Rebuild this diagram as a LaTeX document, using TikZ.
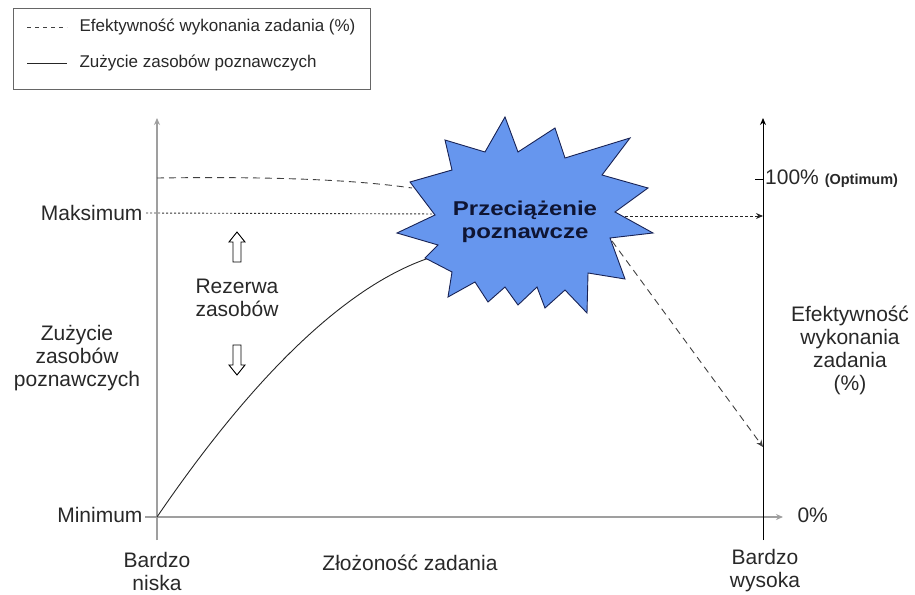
\documentclass[tikz,border=0pt]{standalone}
\usepackage{fontspec}
\setmainfont{Liberation Sans}
\newfontfamily\burstfont{Liberation Sans}[FakeStretch=1.2]
\usetikzlibrary{positioning,arrows.meta}

\definecolor{burstblue}{RGB}{102,150,238}
\definecolor{burstline}{RGB}{25,35,85}
\definecolor{labelgray}{RGB}{40,40,40}

\tikzstyle{axis}=[line width=1.2pt,color=gray!75]
\tikzstyle{axis right}=[line width=1pt,color=black]
\tikzstyle{effort}=[line width=0.9pt,color=black!85]
\tikzstyle{performance}=[line width=0.9pt,color=black!75,dash pattern=on 7pt off 5pt]
\tikzstyle{reserve}=[line width=0.9pt,color=black!80,dash pattern=on 2pt off 2pt]
\tikzstyle{label}=[font=\fontsize{21}{23}\selectfont,align=center,text=labelgray]
\tikzstyle{legend text}=[font=\fontsize{17}{19}\selectfont,anchor=west,text=labelgray]
\tikzstyle{overload}=[fill=burstblue,draw=burstline,line width=0.9pt]
\newcommand{\hollowarrow}[2]{
    \draw[line width=0.9pt,fill=white,shift={(#1)},rotate=#2]
        (-4,15) -- (-4,-5) -- (-8,-5) -- (0,-15) --
        (8,-5) -- (4,-5) -- (4,15) -- cycle;
}

\begin{document}
\begin{tikzpicture}[x=1pt,y=-1pt,>={Stealth[length=7pt,width=6pt]}]
    \useasboundingbox (0,0) rectangle (915,594);
    % legend
    \draw[line width=1pt,color=gray!80!black] (13,9) rectangle (370,89);
    \draw[performance,dash pattern=on 4pt off 4pt] (27,27) -- (67,27);
    \node[legend text] (legperf) at (76,27) {Efektywność wykonania zadania (\%)};
    \draw[effort] (27,63) -- (67,63);
    \node[legend text] (legeffort) at (76,63) {Zużycie zasobów poznawczych};
    %
    \coordinate (origin) at (157,517);
    \coordinate (ytop) at (157,118);
    \coordinate (ybot) at (157,540);
    \coordinate (xleft) at (145,517);
    \coordinate (xend) at (783,517);
    \coordinate (rtop) at (763,118);
    \coordinate (rbot) at (763,540);
    \coordinate (rtick) at (755,179);
    \draw[axis,->] (ybot) -- (ytop);
    \draw[axis,->] (xleft) -- (xend);
    \draw[axis right,->] (rbot) -- (rtop);
    \draw[axis right] (rtick) -- (rtick-|rtop);
    %
    \node[label,anchor=east] (maks) at (146,213) {Maksimum};
    \node[label,anchor=east] (mini) at (146,515) {Minimum};
    \node[label,anchor=west] (zero) at (794,515) {0\%};
    \node[label,anchor=west,inner xsep=2pt] (hundred) at (763,179)
        {100\% {\bfseries\fontsize{14.5}{16}\selectfont (Optimum)}};
    \node[label] (yname) at (77,358) {Zużycie\\zasobów\\poznawczych};
    \node[label] (rname) at (850,350) {Efektywność\\wykonania\\zadania\\(\%)};
    \node[label] (xname) at (410,563) {Złożoność zadania};
    \node[label] (xlow) at (157,571) {Bardzo\\niska};
    \node[label] (xhigh) at (765,571) {Bardzo\\wysoka};
    \node[label] (reserve) at (237,298) {Rezerwa\\zasobów};
    \hollowarrow{237,247}{0}
    \hollowarrow{237,360}{180}
    %
    \coordinate (effstart) at (157,178);
    \coordinate (effin) at (412,188);
    \coordinate (effout) at (612,241);
    \coordinate (effend) at (763,447);
    \coordinate (maxin) at (440,214);
    \coordinate (maxout) at (615,216);
    \coordinate (loadin) at (432,257);
    \draw[performance] (effstart) .. controls (300,176) and (370,182) .. (effin);
    \draw[performance,->] (effout) -- (effend);
    \draw[effort] (origin) .. controls (230,410) and (330,290) .. (loadin);
    \draw[reserve] (maks.east) -- (maxin);
    \draw[effort,densely dashed,->] (maxout) -- (maxout-|rtop);
    %
    \draw[overload] (505,117) -- (518,152) -- (555,128) -- (565,158) --
        (630,138) -- (602,175) -- (648,188) -- (615,212) -- (653,233) --
        (610,238) -- (625,279) -- (588,273) -- (587,313) -- (565,290) --
        (545,308) -- (537,287) -- (518,305) -- (505,287) -- (488,302) --
        (475,282) -- (448,297) -- (452,272) -- (425,258) -- (438,245) --
        (397,233) -- (435,215) -- (410,182) -- (452,170) -- (445,140) --
        (485,152) -- cycle;
    \node[font=\burstfont\bfseries\fontsize{20}{23}\selectfont,align=center,
        text=burstline!60!black] (burst) at (525,222) {Przeciążenie\\poznawcze};
\end{tikzpicture}
\end{document}
